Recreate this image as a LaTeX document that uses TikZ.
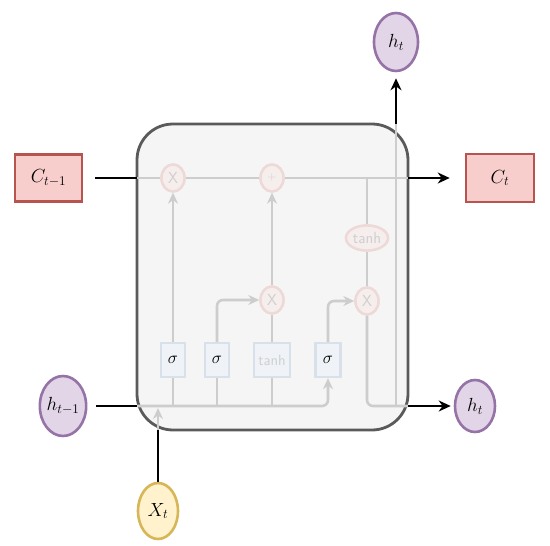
\RequirePackage{fix-cm}
\documentclass[tikz,border=0pt]{standalone}
\usetikzlibrary{arrows.meta,shapes.geometric}
\definecolor{cfill}{HTML}{F8CECC}
\definecolor{cdraw}{HTML}{B85450}
\definecolor{hfill}{HTML}{E1D5E7}
\definecolor{hdraw}{HTML}{9673A6}
\definecolor{xfill}{HTML}{FFF2CC}
\definecolor{xdraw}{HTML}{D6B656}
\definecolor{bfill}{HTML}{F5F5F5}
\definecolor{bdraw}{HTML}{5A5A5A}
\definecolor{gline}{HTML}{CDCDCD}
\definecolor{opfill}{HTML}{F6EEED}
\definecolor{opdraw}{HTML}{EDD9D7}
\definecolor{sfill}{HTML}{EFF2F6}
\definecolor{sdraw}{HTML}{D8E0EA}
\definecolor{gtext}{HTML}{CFCFCF}
\tikzset{
  blk/.style={draw=black, line width=2.6pt},
  blkarrow/.style={blk, -{Stealth[length=12pt,width=11pt]}},
  gl/.style={draw=gline, line width=2.6pt},
  glarrow/.style={gl, -{Stealth[length=11pt,width=10pt]}},
  lbl/.style={font=\fontsize{19}{21}\selectfont},
  cbox/.style={lbl, draw=cdraw, fill=cfill, line width=2.6pt, inner sep=0pt},
  hell/.style={lbl, ellipse, draw=hdraw, fill=hfill, line width=2.6pt, inner sep=0pt},
  xell/.style={lbl, ellipse, draw=xdraw, fill=xfill, line width=2.6pt, inner sep=0pt},
  opnode/.style={ellipse, draw=opdraw, fill=opfill, line width=2.4pt, inner sep=0pt, text=gtext, font=\sffamily\fontsize{16}{18}\selectfont, minimum width=23pt, minimum height=27pt},
  plusnode/.style={opnode, font=\sffamily\fontsize{12}{14}\selectfont},
  gate/.style={draw=sdraw, fill=sfill, line width=2.4pt, inner sep=0pt, minimum height=34pt, font=\fontsize{17}{19}\selectfont},
  tgate/.style={gate, text=gtext, font=\sffamily\fontsize{15}{17}\selectfont},
}
\begin{document}
\begin{tikzpicture}[x=1pt,y=-1pt]
\useasboundingbox (0,0) rectangle (550,546);
% cell body
\node[draw=bdraw, fill=bfill, line width=2.8pt, rounded corners=36pt, minimum width=271pt, minimum height=306pt, inner sep=0pt] (cell) at (272.5,277) {};
% boundary coordinates
\coordinate (bl1) at (137,178);
\coordinate (br1) at (408,178);
\coordinate (bl2) at (137,406);
\coordinate (br2) at (408,406);
\coordinate (bt) at (396,124);
\coordinate (bb) at (158,430);
\coordinate (xin) at (158,408);
% outer nodes
\node[cbox, minimum width=67pt, minimum height=47pt] (cprev) at (48.5,178) {$C_{t-1}$};
\node[cbox, minimum width=68pt, minimum height=48pt] (cnext) at (500,178) {$C_t$};
\node[hell, minimum width=44pt, minimum height=60pt] (hprev) at (63,406) {$h_{t-1}$};
\node[hell, minimum width=40pt, minimum height=52pt] (hnext) at (475,406) {$h_t$};
\node[hell, minimum width=44pt, minimum height=58pt] (htop) at (396,42) {$h_t$};
\node[xell, minimum width=40pt, minimum height=56pt] (xt) at (158,511) {$X_t$};
% inner nodes
\node[opnode] (mulf) at (173,178) {X};
\node[plusnode] (add) at (272,178) {+};
\node[opnode] (mul2) at (272,300) {X};
\node[opnode] (mul3) at (367,301) {X};
\node[opnode, minimum width=42pt, minimum height=25pt] (tanhc) at (367,238) {tanh};
\node[gate, minimum width=24pt] (s1) at (173,360) {$\sigma$};
\node[gate, minimum width=24pt] (s2) at (217,360) {$\sigma$};
\node[tgate, minimum width=36pt] (tb) at (272,360) {tanh};
\node[gate, minimum width=25pt] (s3) at (328,360) {$\sigma$};
% gray inner connectors
\draw[gl] (bl1) -- (mulf.west);
\draw[gl] (mulf.east) -- (add.west);
\draw[gl] (add.east) -- (br1);
\draw[glarrow, rounded corners=6pt] (bl2) -| (s3.south);
\draw[gl] (s1 |- bl2) -- (s1.south);
\draw[glarrow] (s1.north) -- (mulf.south);
\draw[gl] (s2 |- bl2) -- (s2.south);
\draw[glarrow, rounded corners=6pt] (s2.north) |- (mul2.west);
\draw[gl] (tb |- bl2) -- (tb.south);
\draw[gl] (tb.north) -- (mul2.south);
\draw[glarrow] (mul2.north) -- (add.south);
\draw[glarrow, rounded corners=6pt] (s3.north) |- (mul3.west);
\draw[gl] (tanhc |- br1) -- (tanhc.north);
\draw[gl] (tanhc.south) -- (mul3.north);
\draw[gl, rounded corners=6pt] (mul3.south) |- (br2);
\draw[gl] (bt) -- (bt |- br2);
\draw[glarrow] (bb) -- (xin);
% redraw inner nodes on top of lines
\node[opnode] at (mulf) {X};
\node[plusnode] at (add) {+};
\node[opnode] at (mul2) {X};
\node[opnode] at (mul3) {X};
\node[opnode, minimum width=42pt, minimum height=25pt] at (tanhc) {tanh};
\node[gate, minimum width=24pt] at (s1) {$\sigma$};
\node[gate, minimum width=24pt] at (s2) {$\sigma$};
\node[tgate, minimum width=36pt] at (tb) {tanh};
\node[gate, minimum width=25pt] at (s3) {$\sigma$};
% black outer connectors
\draw[blk, shorten <=12pt] (cprev.east) -- (bl1);
\draw[blkarrow, shorten >=15pt] (br1) -- (cnext.west);
\draw[blk, shorten <=9pt] (hprev.east) -- (bl2);
\draw[blkarrow, shorten >=3pt] (br2) -- (hnext.west);
\draw[blkarrow, shorten >=6pt] (bt) -- (htop.south);
\draw[blk] (xt.north) -- (bb);
\end{tikzpicture}
\end{document}
